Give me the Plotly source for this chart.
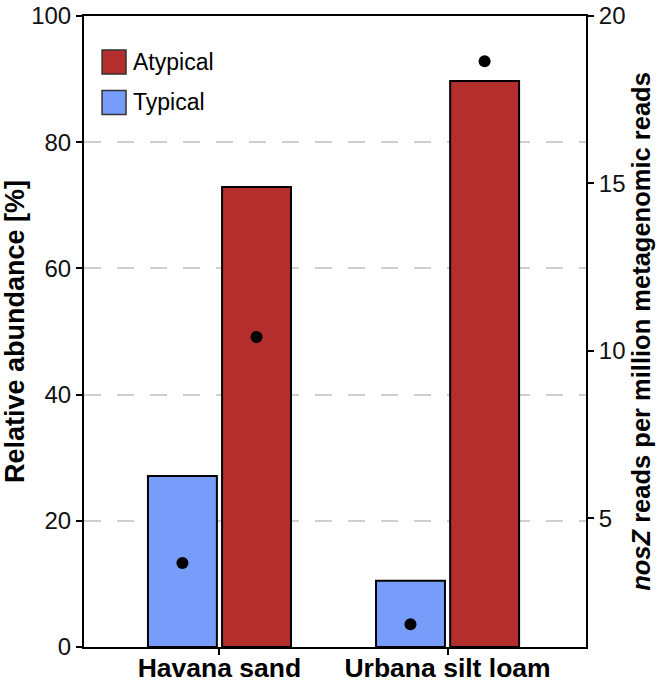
import plotly.graph_objects as go

categories = ["Havana sand", "Urbana silt loam"]
typical_pct = [27.1, 10.5]
atypical_pct = [72.9, 89.7]
typical_reads = [3.66, 1.83]
atypical_reads = [10.41, 18.65]
left_ticks = [0, 20, 40, 60, 80, 100]
right_ticks = [5, 10, 15, 20]

RED = "#B32E2D"
BLUE = "#789CFA"
FONT = "Liberation Sans, Arial, sans-serif"

fig = go.Figure()
fig.add_trace(go.Bar(name="Typical", x=categories, y=typical_pct, marker=dict(color=BLUE, line=dict(color="black", width=2)),
                     offsetgroup="typ", showlegend=False))
fig.add_trace(go.Bar(name="Atypical", x=categories, y=atypical_pct, marker=dict(color=RED, line=dict(color="black", width=2)),
                     offsetgroup="atyp", showlegend=False))
fig.add_trace(go.Scatter(x=categories, y=typical_reads, yaxis="y2", mode="markers", offsetgroup="typ",
                         marker=dict(color="black", size=12), showlegend=False))
fig.add_trace(go.Scatter(x=categories, y=atypical_reads, yaxis="y2", mode="markers", offsetgroup="atyp",
                         marker=dict(color="black", size=12), showlegend=False))

# manual legend
legend_items = [("Atypical", RED, 0.927), ("Typical", BLUE, 0.863)]
for label, col, yc in legend_items:
    fig.add_shape(type="rect", xref="paper", yref="paper", x0=0.036, x1=0.0837, y0=yc - 0.019, y1=yc + 0.019,
                  fillcolor=col, line=dict(color="#333", width=1.5))
    fig.add_annotation(text=label, xref="paper", yref="paper", x=0.094, y=yc, xanchor="left", yanchor="middle",
                       showarrow=False, font=dict(family=FONT, size=23, color="black"))

fig.update_layout(
    width=666, height=683,
    margin=dict(l=84, r=80, t=16, b=36, autoexpand=False),
    paper_bgcolor="white", plot_bgcolor="white",
    barmode="group", bargap=0.35, bargroupgap=0.07,
    scattermode="group", scattergap=0.35,
    font=dict(family=FONT, color="#111"),
    xaxis=dict(range=[-0.594, 1.607], showline=True, linecolor="black", linewidth=2, mirror=True,
               ticks="outside", ticklen=6, tickwidth=1.5, tickcolor="black", automargin=False,
               ticklabelstandoff=-10,
               tickfont=dict(family=FONT, size=26.5, color="black", weight="bold"),
               showgrid=False, zeroline=False),
    yaxis=dict(range=[0, 100], tickvals=left_ticks, showline=True, linecolor="black", linewidth=2, mirror=True,
               ticks="outside", ticklen=6, tickwidth=1.5, tickcolor="black", automargin=False,
               tickfont=dict(family=FONT, size=24, color="#111"),
               showgrid=True, gridcolor="#cfcfcf", gridwidth=1.5, griddash="17px,16px", zeroline=False,
               title=dict(text="<b>Relative abundance [%]</b>", font=dict(family=FONT, size=27, color="black"), standoff=8)),
    yaxis2=dict(range=[1.15, 20], tickvals=right_ticks, overlaying="y", side="right", showline=True,
                linecolor="black", linewidth=2, ticks="outside", ticklen=6, tickwidth=1.5, tickcolor="black",
                automargin=False,
                tickfont=dict(family=FONT, size=24, color="#111"), showgrid=False, zeroline=False,
                title=dict(text="<b><i>nosZ</i> reads per million metagenomic reads</b>",
                           font=dict(family=FONT, size=25.5, color="black"), standoff=8)),
)

fig.write_html("out.html", config={"displayModeBar": False},
               post_script="document.body.style.margin='0';document.body.style.overflow='hidden';")
